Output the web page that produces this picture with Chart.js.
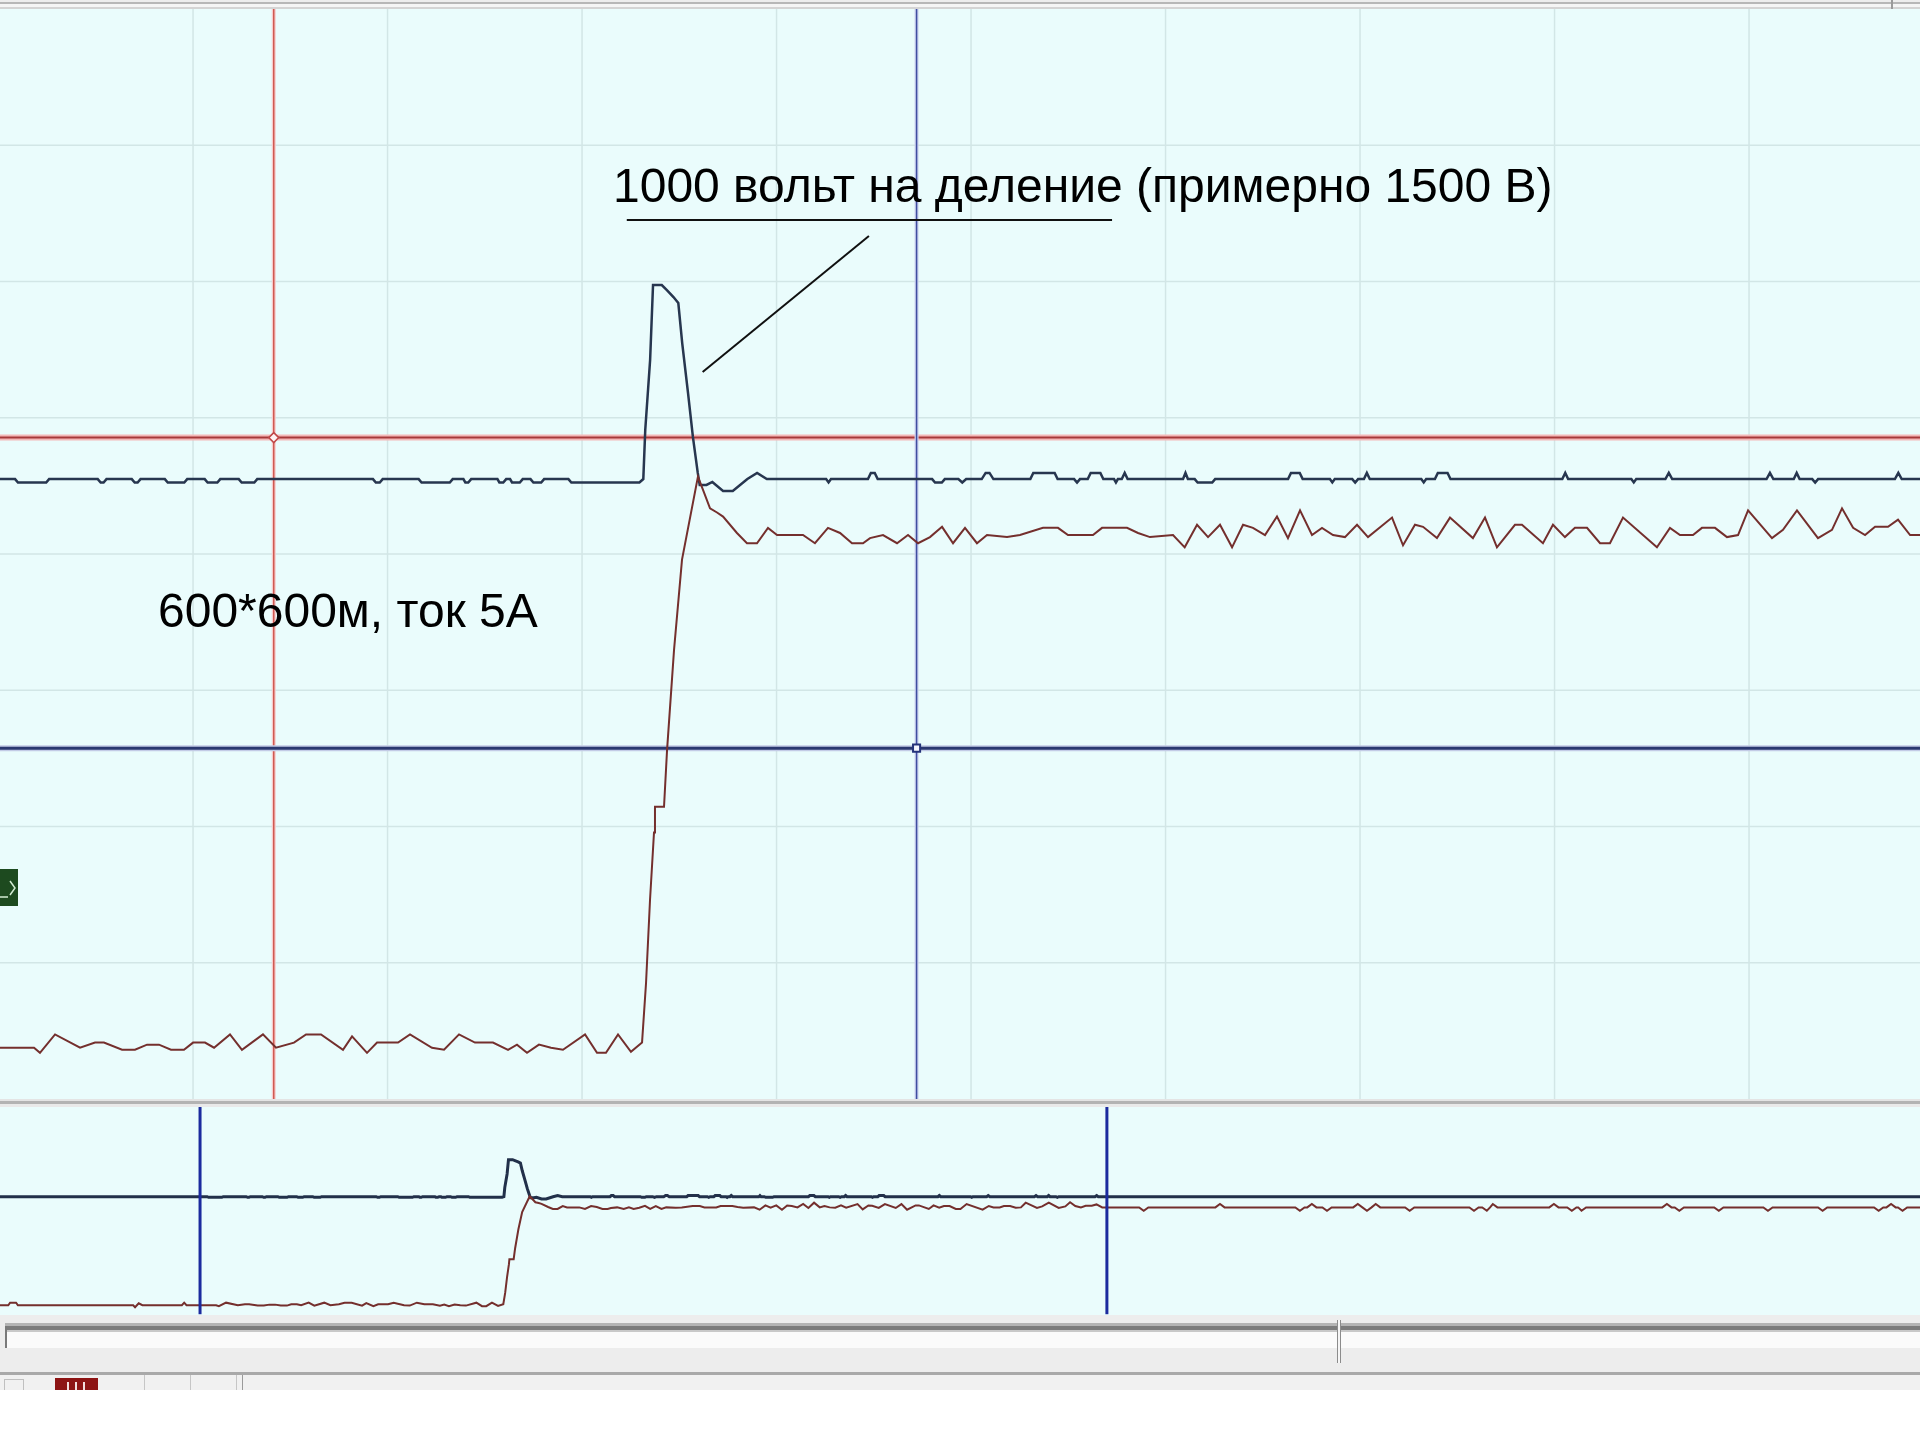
<!DOCTYPE html>
<html>
<head>
<meta charset="utf-8">
<title>Импульс напряжения и тока</title>
<script src="https://cdn.jsdelivr.net/npm/chart.js@4.4.1/dist/chart.umd.min.js"></script>
<style>
  html, body { margin: 0; padding: 0; background: #ffffff; }
  body { width: 1920px; height: 1440px; position: relative; overflow: hidden;
         font-family: "Liberation Sans", Arial, sans-serif; }
  .abs { position: absolute; }
  canvas { display: block; background: #eafcfc; }
  #topFrame { left: 0; top: 0; width: 1920px; height: 9px;
    background: linear-gradient(#ededed 0, #ededed 2px, #b7b7b7 2px, #b7b7b7 4px, #f5f5f5 4px, #f5f5f5 7px, #d4d4d4 7px); }
  #topNotch { left: 1891px; top: 0; width: 2px; height: 9px; background: #9a9a9a; }
  #mainWrap { left: 0; top: 9px; width: 1920px; height: 1090px; }
  #splitter { left: 0; top: 1099px; width: 1920px; height: 8px;
    background: linear-gradient(#e4e4e4 0, #e4e4e4 2px, #b3b3b3 2px, #b3b3b3 5px, #e9e9e9 5px); }
  #overWrap { left: 0; top: 1107px; width: 1920px; height: 208px; }
  #panelBase { left: 0; top: 1315px; width: 1920px; height: 75px; background: #ededed; }
  #trackTop { left: 5px; top: 1323px; width: 1915px; height: 9px;
    background: linear-gradient(#b4b4b4 0, #b4b4b4 3px, #7c7c7c 3px, #7c7c7c 7px, #c9c9c9 7px); }
  #trackBody { left: 7px; top: 1332px; width: 1913px; height: 16px; background: #fbfbfb; }
  #trackEnd { left: 5px; top: 1326px; width: 2px; height: 22px; background: #7a7a7a; }
  #thumb { left: 1337px; top: 1320px; width: 2px; height: 43px; background: #f6f6f6;
    border-left: 1px solid #8c8c8c; border-right: 1px solid #8c8c8c; }
  #toolLine { left: 0; top: 1372px; width: 1920px; height: 3px; background: #a9a9a9; }
  #toolBar { left: 0; top: 1375px; width: 1920px; height: 15px; background: #f1f1f1; }
  .sep { top: 1375px; width: 1px; height: 15px; background: #c6c6c6; }
  #toolIcon { left: 4px; top: 1379px; width: 20px; height: 11px; border-top: 1px solid #c0c0c0;
    border-left: 1px solid #c0c0c0; border-right: 1px solid #c0c0c0; box-sizing: border-box; }
  #recIcon { left: 55px; top: 1378px; width: 43px; height: 12px; background: #8d1414; }
  #recIcon i { position: absolute; top: 4px; width: 2px; height: 8px; background: #f2dede; }
  #chanTag { left: 0; top: 869px; width: 18px; height: 37px; background: #1d4a1f; }
  .note { position: absolute; font-size: 48px; line-height: 48px; color: #000; white-space: nowrap; }
</style>
</head>
<body>
<div class="abs" id="topFrame"></div>
<div class="abs" id="topNotch"></div>
<div class="abs" id="mainWrap"><canvas id="scope" width="1920" height="1090"></canvas></div>
<div class="abs" id="splitter"></div>
<div class="abs" id="overWrap"><canvas id="overview" width="1920" height="208"></canvas></div>
<div class="abs" id="panelBase"></div>
<div class="abs" id="trackTop"></div>
<div class="abs" id="trackBody"></div>
<div class="abs" id="trackEnd"></div>
<div class="abs" id="thumb"></div>
<div class="abs" id="toolLine"></div>
<div class="abs" id="toolBar"></div>
<div class="abs" id="toolIcon"></div>
<div class="abs" id="recIcon"><i style="left:12px"></i><i style="left:20px"></i><i style="left:28px"></i></div>
<div class="abs sep" style="left:144px"></div>
<div class="abs sep" style="left:190px"></div>
<div class="abs sep" style="left:236px"></div>
<div class="abs sep" style="left:242px; background:#9a9a9a"></div>
<div class="abs" id="chanTag">
  <svg width="18" height="37" viewBox="0 0 18 37">
    <polyline points="10,12 15,19 10,26" fill="none" stroke="#d3ecd3" stroke-width="1.5"/>
    <line x1="0" y1="28" x2="8" y2="28" stroke="#d3ecd3" stroke-width="1.5"/>
  </svg>
</div>
<div class="note" style="left:613px; top:162px;">1000 вольт на деление (примерно 1500 В)</div>
<div class="note" style="left:158px; top:587px;">600*600м, ток 5А</div>

<script>
// Time is counted in samples; the upper panel shows a window of the record,
// the lower strip shows the whole record with the window marked by two cursors.
const sampleWindow = [0.15, 197.58];
const overviewSpan = [-43.4, 374.6];
const samplesPerDiv = 20;
const voltRange = [-4550, 3450];   // В, 1000 В на деление
const ampRange = [-0.5, 10.13];    // А
const divRange = [0, 8];           // вертикальные деления сетки
const timeCursors = [28.3, 94.4];  // красный и синий курсоры времени
const ampCursor = 5.95;            // красный горизонтальный курсор, А
const voltCursor = -1975;          // синий горизонтальный курсор, В

// Напряжение [отсчёт, В]
const voltageTrace = [
  [0.15,0],[1.7,0],[2.0,-25],[4.9,-25],[5.2,0],[10.2,0],[10.5,-25],[10.8,-25],[11.1,0],
  [13.7,0],[14.0,-25],[14.3,-25],[14.6,0],[17.1,0],[17.4,-25],[19.1,-25],[19.4,0],
  [21.2,0],[21.5,-25],[22.5,-25],[22.8,0],[24.7,0],[25.0,-25],[26.3,-25],[26.6,0],
  [38.5,0],[38.8,-25],[39.2,-25],[39.5,0],[43.2,0],[43.5,-25],[46.4,-25],[46.7,0],
  [47.8,0],[48.0,-25],[48.3,-25],[48.6,0],[51.3,0],[51.5,-25],[51.9,-25],[52.2,0],
  [52.6,0],[52.8,-25],[53.6,-25],[53.9,0],[54.7,0],[55.0,-25],[55.8,-25],[56.1,0],
  [58.6,0],[58.9,-25],[65.9,-25],[66.3,0],
  [66.5,360],[67.0,874],[67.3,1424],[68.2,1424],[68.7,1388],[69.4,1336],[69.9,1292],
  [70.3,998],[70.9,631],[71.4,309],[71.9,45],[72.1,-43],[72.8,-43],[73.4,-21],
  [74.5,-87],[75.5,-87],[77.0,0],[78.0,45],[79.0,0],
  [85.1,0],[85.35,-25],[85.6,0],[89.4,0],[89.7,45],[90.1,45],[90.4,0],
  [96.0,0],[96.3,-25],[97.0,-25],[97.3,0],[98.7,0],[99.1,-25],[99.5,0],
  [101.1,0],[101.5,45],[101.9,45],[102.3,0],[106.1,0],[106.4,45],[108.6,45],[108.9,0],
  [110.6,0],[110.9,-25],[111.2,0],[112.0,0],[112.3,45],[113.3,45],[113.6,0],
  [114.7,0],[114.9,-25],[115.1,0],[115.5,0],[115.8,45],[116.1,0],
  [121.8,0],[122.05,45],[122.3,0],[123.0,0],[123.3,-25],[124.8,-25],[125.1,0],
  [132.6,0],[132.9,45],[133.8,45],[134.1,0],[136.9,0],[137.15,-25],[137.4,0],
  [139.2,0],[139.5,-25],[139.8,0],[140.4,0],[140.7,45],[141.0,0],
  [146.3,0],[146.55,-25],[146.8,0],[147.7,0],[148.0,45],[149.0,45],[149.3,0],
  [160.8,0],[161.1,45],[161.4,0],[167.9,0],[168.15,-25],[168.4,0],
  [171.4,0],[171.75,45],[172.1,0],[181.8,0],[182.15,45],[182.5,0],
  [184.6,0],[184.9,45],[185.2,0],[186.5,0],[186.8,-25],[187.1,0],
  [195.0,0],[195.35,45],[195.7,0],[197.58,0]
];

// Ток [отсчёт, А]
const currentTrace = [
  [0.15,0],[3.65,0],[4.26,-0.05],[5.81,0.13],[8.38,0],[9.92,0.05],[10.84,0.05],
  [12.70,-0.02],[14.03,-0.02],[15.27,0.03],[16.50,0.03],[17.73,-0.02],[19.07,-0.02],
  [20.00,0.05],[21.23,0.05],[22.16,0],[23.80,0.13],[25.03,-0.02],[27.19,0.13],
  [28.53,0],[30.38,0.05],[31.62,0.13],[33.16,0.13],[35.42,-0.02],[36.35,0.11],
  [37.89,-0.05],[38.92,0.05],[41.08,0.05],[42.31,0.13],[44.57,0],[45.81,-0.02],
  [47.35,0.13],[48.99,0.05],[50.84,0.05],[52.39,-0.02],[53.31,0.03],[54.34,-0.05],
  [55.57,0.03],[56.81,0],[58.04,-0.02],[60.31,0.13],[61.54,-0.05],[62.46,-0.05],
  [63.70,0.13],[65.03,-0.04],[66.17,0.05],
  [66.58,0.63],[66.99,1.44],[67.40,2.10],[67.50,2.35],[68.43,2.35],[68.74,2.90],
  [69.46,3.88],[70.28,4.76],[71.92,5.57],[72.44,5.44],[73.16,5.26],[73.88,5.22],
  [74.50,5.18],[75.93,5.02],[76.96,4.92],[77.99,4.92],[79.12,5.07],[80.05,5.00],
  [82.72,5.00],[83.95,4.92],[85.29,5.07],[86.53,5.02],[87.76,4.92],[88.89,4.92],
  [89.61,4.97],[90.95,5.00],[92.39,4.92],[93.52,5.00],[94.55,4.92],[95.78,4.98],
  [97.02,5.08],[98.15,4.92],[99.38,5.07],[100.61,4.92],[101.64,5.00],[103.70,4.98],
  [105.03,5.00],[107.40,5.07],[108.94,5.07],[109.97,5.00],[112.54,5.00],[113.47,5.07],
  [116.04,5.07],[117.17,5.02],[118.40,4.98],[120.77,5.00],[121.97,4.88],[123.24,5.10],
  [124.37,4.98],[125.60,5.10],[126.84,4.88],[127.97,5.10],[128.99,5.07],[130.23,5.00],
  [131.46,5.18],[132.59,4.97],[133.83,5.24],[135.06,5.00],[136.09,5.07],[137.22,5.00],
  [138.45,4.98],[139.69,5.10],[140.82,4.98],[143.29,5.17],[144.42,4.90],[145.65,5.10],
  [146.48,5.08],[147.91,4.97],[149.25,5.17],[151.61,4.97],[152.85,5.17],[154.08,4.88],
  [155.93,5.10],[156.65,5.10],[158.81,4.92],[159.84,5.10],[161.07,4.98],[162.10,5.07],
  [163.34,5.07],[164.68,4.92],[165.70,4.92],[167.04,5.17],[170.53,4.88],[171.87,5.07],
  [172.90,5.00],[174.24,5.00],[175.16,5.07],[176.50,5.07],[177.73,4.98],[178.87,5.00],
  [179.90,5.24],[182.36,4.97],[183.49,5.05],[184.93,5.24],[187.09,4.97],[188.53,5.05],
  [189.56,5.26],[190.70,5.07],[191.93,5.00],[192.96,5.08],[194.29,5.08],[195.32,5.15],
  [196.56,5.00],[197.58,5.00]
];

// Части записи до и после окна просмотра
const leadVoltage = [[-43.4,0],[0.15,0]];
const leadCurrent = [
  [-43.4,0],[-41.6,0],[-41.2,0.13],[-39.9,0.13],[-39.5,0],[-14.4,0],[-14.0,-0.1],
  [-13.2,0.1],[-12.4,0],[-3.8,0],[-3.3,0.13],[-2.8,0],[0.15,0]
];
const tailVoltage = [[197.58,0],[374.6,0]];
const tailCurrent = [
  [197.58,5.0],[204.6,5.0],[205.6,4.83],[206.6,5.0],[221.2,5.0],[222.2,5.17],[223.2,5.0],
  [238.6,5.0],[239.6,4.83],[240.6,5.0],[241.2,5.0],[242.2,5.17],[243.2,5.0],
  [244.5,5.0],[245.5,4.83],[246.5,5.0],[251.2,5.0],[252.2,5.17],[253.2,5.0],
  [254.2,4.83],[255.2,5.0],[256.1,5.17],[257.1,5.0],[262.5,5.0],[263.5,4.83],[264.5,5.0],
  [276.5,5.0],[277.5,4.83],[278.5,5.0],[279.3,5.0],[280.3,4.83],[281.0,5.0],
  [281.6,5.17],[282.6,5.0],[293.9,5.0],[294.9,5.17],[295.9,5.0],[297.8,5.0],
  [298.8,4.83],[299.8,5.0],[300.2,5.0],[300.9,4.83],[301.9,5.0],[318.5,5.0],
  [319.5,5.17],[320.5,5.0],[321.2,5.0],[322.2,4.83],[323.2,5.0],[329.8,5.0],
  [330.8,4.83],[331.8,5.0],[340.5,5.0],[341.5,4.83],[342.5,5.0],[352.4,5.0],
  [353.4,4.83],[354.4,5.0],[364.6,5.0],[365.6,4.83],[366.6,5.0],[367.3,5.0],
  [368.3,5.17],[369.3,5.0],[369.8,5.0],[370.8,4.83],[371.8,5.0],[374.6,5.0]
];

// Выноска к подписи напряжения [отсчёт, В]
const calloutUnderline = [[64.6,1901],[114.5,1901]];
const calloutLeader = [[89.5,1784],[72.4,786]];

const toXY = arr => arr.map(([x, y]) => ({ x, y }));
const vLine = (t) => [{ x: t, y: divRange[0] }, { x: t, y: divRange[1] }];
const hLine = (v) => [{ x: sampleWindow[0], y: v }, { x: sampleWindow[1], y: v }];

const lineDefaults = { pointRadius: 0, borderJoinStyle: 'miter', tension: 0, fill: false };

// Сетка делений: по времени через samplesPerDiv отсчётов, по вертикали через одно деление
const divisionGrid = {
  id: 'divisionGrid',
  beforeDatasetsDraw(chart) {
    const { ctx, chartArea: a, scales } = chart;
    ctx.save();
    ctx.strokeStyle = '#d2e6e6';
    ctx.lineWidth = 1.5;
    ctx.beginPath();
    for (let t = samplesPerDiv; t < sampleWindow[1]; t += samplesPerDiv) {
      const px = scales.x.getPixelForValue(t);
      ctx.moveTo(px, a.top); ctx.lineTo(px, a.bottom);
    }
    for (let d = divRange[0] + 1; d < divRange[1]; d++) {
      const py = scales.yDiv.getPixelForValue(d);
      ctx.moveTo(a.left, py); ctx.lineTo(a.right, py);
    }
    ctx.stroke();
    ctx.restore();
  }
};

const calloutPlugin = {
  id: 'callout',
  afterDatasetsDraw(chart) {
    const { ctx, scales } = chart;
    ctx.save();
    ctx.strokeStyle = '#101010';
    ctx.lineWidth = 2;
    for (const seg of [calloutUnderline, calloutLeader]) {
      ctx.beginPath();
      seg.forEach(([t, v], i) => {
        const px = scales.x.getPixelForValue(t);
        const py = scales.yV.getPixelForValue(v);
        if (i === 0) ctx.moveTo(px, py); else ctx.lineTo(px, py);
      });
      ctx.stroke();
    }
    ctx.restore();
  }
};

const commonOptions = {
  responsive: false,
  animation: false,
  events: [],
  devicePixelRatio: 1,
  layout: { padding: 0, autoPadding: false },
  plugins: { legend: { display: false }, tooltip: { enabled: false } }
};

// Основная панель
new Chart(document.getElementById('scope'), {
  type: 'line',
  data: {
    datasets: [
      { ...lineDefaults, data: [{ x: timeCursors[0], y: ampCursor }], yAxisID: 'yI', showLine: false,
        pointRadius: 5, pointStyle: 'rectRot', pointBackgroundColor: '#fff3f3',
        pointBorderColor: '#c04848', pointBorderWidth: 1.5, order: 0 },
      { ...lineDefaults, data: [{ x: timeCursors[1], y: voltCursor }], yAxisID: 'yV', showLine: false,
        pointRadius: 5, pointStyle: 'rect', pointBackgroundColor: '#f4f6ff',
        pointBorderColor: '#24337a', pointBorderWidth: 2, order: 0 },
      { ...lineDefaults, label: 'Ток', data: toXY(currentTrace), yAxisID: 'yI',
        borderColor: '#742f2d', borderWidth: 2, order: 1 },
      { ...lineDefaults, label: 'Напряжение', data: toXY(voltageTrace), yAxisID: 'yV',
        borderColor: '#27364f', borderWidth: 2.5, order: 2 },
      // курсоры
      { ...lineDefaults, data: vLine(timeCursors[1]), yAxisID: 'yDiv', borderColor: '#3f4ea0', borderWidth: 1.5, order: 10 },
      { ...lineDefaults, data: vLine(timeCursors[1]), yAxisID: 'yDiv', borderColor: '#cdd3f0', borderWidth: 4, order: 11 },
      { ...lineDefaults, data: hLine(voltCursor), yAxisID: 'yV', borderColor: '#2a3870', borderWidth: 3, order: 12 },
      { ...lineDefaults, data: hLine(voltCursor), yAxisID: 'yV', borderColor: '#c3cbe6', borderWidth: 6, order: 13 },
      { ...lineDefaults, data: vLine(timeCursors[0]), yAxisID: 'yDiv', borderColor: '#cf5a52', borderWidth: 1.5, order: 14 },
      { ...lineDefaults, data: vLine(timeCursors[0]), yAxisID: 'yDiv', borderColor: '#f6cccc', borderWidth: 4, order: 15 },
      { ...lineDefaults, data: hLine(ampCursor), yAxisID: 'yI', borderColor: '#a7393a', borderWidth: 2, order: 16 },
      { ...lineDefaults, data: hLine(ampCursor), yAxisID: 'yI', borderColor: '#f3b7b7', borderWidth: 6, order: 17 }
    ]
  },
  options: {
    ...commonOptions,
    scales: {
      x: { type: 'linear', display: false, min: sampleWindow[0], max: sampleWindow[1] },
      yDiv: { type: 'linear', display: false, min: divRange[0], max: divRange[1] },
      yV: { type: 'linear', display: false, min: voltRange[0], max: voltRange[1] },
      yI: { type: 'linear', display: false, min: ampRange[0], max: ampRange[1] }
    }
  },
  plugins: [divisionGrid, calloutPlugin]
});

// Обзорная полоса всей записи
new Chart(document.getElementById('overview'), {
  type: 'line',
  data: {
    datasets: [
      { ...lineDefaults, label: 'Ток', data: toXY([...leadCurrent, ...currentTrace, ...tailCurrent]),
        yAxisID: 'yI', borderColor: '#742f2d', borderWidth: 2, order: 1 },
      { ...lineDefaults, label: 'Напряжение', data: toXY([...leadVoltage, ...voltageTrace, ...tailVoltage]),
        yAxisID: 'yV', borderColor: '#22304a', borderWidth: 3, order: 2 },
      { ...lineDefaults, data: vLine(sampleWindow[0]), yAxisID: 'yDiv', borderColor: '#1b2a9e', borderWidth: 3, order: 0 },
      { ...lineDefaults, data: vLine(sampleWindow[1]), yAxisID: 'yDiv', borderColor: '#1b2a9e', borderWidth: 3, order: 0 }
    ]
  },
  options: {
    ...commonOptions,
    scales: {
      x: { type: 'linear', display: false, min: overviewSpan[0], max: overviewSpan[1] },
      yDiv: { type: 'linear', display: false, min: divRange[0] - 0.03, max: divRange[1] - 0.06 },
      yV: { type: 'linear', display: false, min: voltRange[0], max: voltRange[1] },
      yI: { type: 'linear', display: false, min: ampRange[0], max: ampRange[1] }
    }
  }
});
</script>
</body>
</html>
